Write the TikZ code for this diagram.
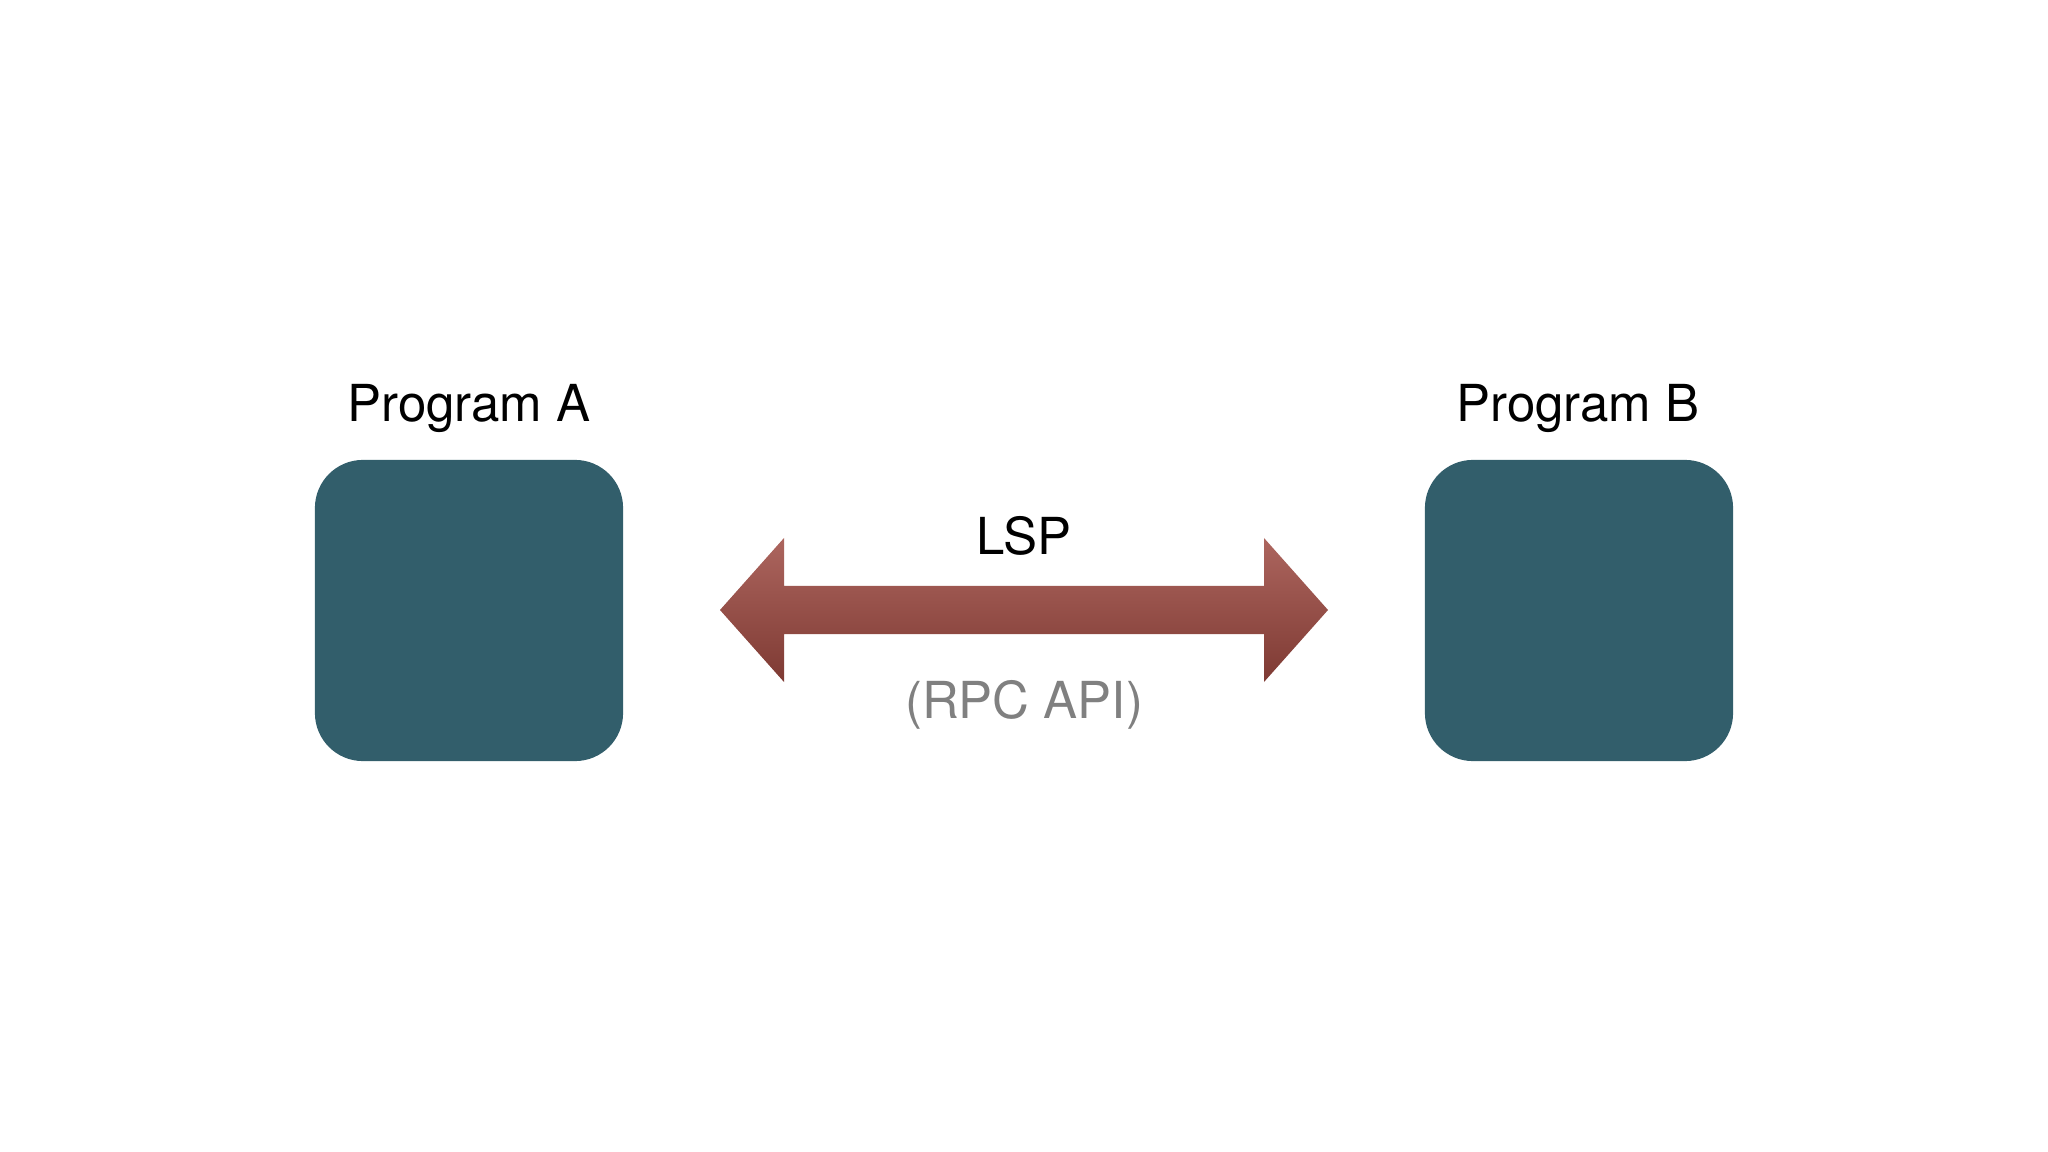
\documentclass[tikz,border=0pt]{standalone}
\usepackage{fontspec}
\setmainfont{TeX Gyre Heros}
\begin{document}
\begin{tikzpicture}[x=0.01cm,y=-0.01cm,
  prog/.style={fill=boxc,draw=none,rounded corners=0.48cm,minimum width=3.08cm,minimum height=3.01cm,inner sep=0pt},
  lab/.style={font=\fontsize{14.5}{17}\selectfont,inner sep=0pt}]
\definecolor{boxc}{HTML}{325E6B}
\definecolor{arrc}{HTML}{9E4A42}
\definecolor{arrd}{HTML}{7E3A33}
\useasboundingbox (0,0) rectangle (2048,1152);
\node[prog] (A) at (469,610.5) {};
\node[prog] (B) at (1579,610.5) {};
\node[lab] (la) at (469,408) {Program A};
\node[lab] (lb) at (1578,408) {Program B};
\node[lab] (lsp) at (1024,536) {LSP};
\node[lab,text=gray] (rpc) at (1024,705) {(RPC API)};
\shade[top color=arrc!85!white,bottom color=arrd]
 (720,610) -- (784,538) -- (784,586) -- (1264,586) -- (1264,538) -- (1328,610)
 -- (1264,682) -- (1264,634) -- (784,634) -- (784,682) -- cycle;
\end{tikzpicture}
\end{document}
